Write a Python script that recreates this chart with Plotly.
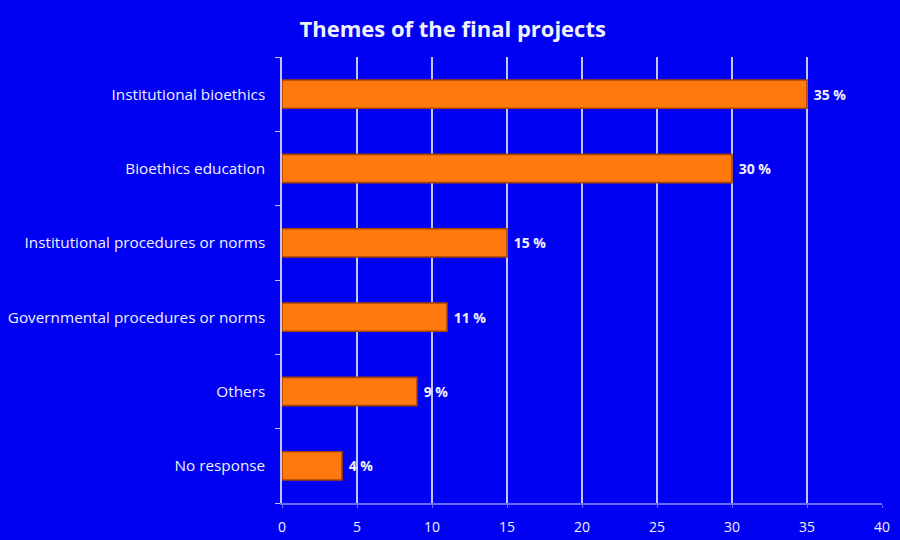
import plotly.graph_objects as go

# Themes chosen for the final projects (share of respondents, %)
themes = [
    "Institutional bioethics",
    "Bioethics education",
    "Institutional procedures or norms",
    "Governmental procedures or norms",
    "Others",
    "No response",
]
shares = [35, 30, 15, 11, 9, 4]
x_ticks = [0, 5, 10, 15, 20, 25, 30, 35, 40]

BG = "#0000F2"
GRID = "#C4C4FF"
TXT = "#F0F0FF"
BAR = "#FF7A0C"
BAR_EDGE = "#A84400"
FONT = "Open Sans"

# plot area in pixels: x 282..882, y 57..503
PL, PR, PT, PB = 282, 882, 57, 503

fig = go.Figure(
    go.Bar(
        x=shares,
        y=themes,
        orientation="h",
        width=0.38,
        marker=dict(color=BAR, line=dict(color=BAR_EDGE, width=1.6)),
        text=[f" {v} %" for v in shares],
        textposition="outside",
        textfont=dict(family=FONT, size=14, color=TXT, weight="bold"),
        cliponaxis=False,
    )
)

fig.update_layout(
    width=900,
    height=540,
    paper_bgcolor=BG,
    plot_bgcolor=BG,
    margin=dict(l=PL, r=900 - PR, t=PT, b=540 - PB, autoexpand=False),
    showlegend=False,
    title=dict(
        text="<b>Themes of the final projects</b>",
        x=0.503,
        xanchor="center",
        y=0.945,
        yanchor="middle",
        font=dict(family=FONT, size=22, color=TXT),
    ),
    font=dict(family=FONT, color=TXT, size=13),
)

fig.update_xaxes(
    range=[0, 40],
    tickvals=x_ticks,
    showgrid=True,
    gridcolor=GRID,
    gridwidth=1.6,
    zeroline=False,
    showline=True,
    linecolor="#6A6AFF",
    linewidth=1.5,
    ticks="outside",
    ticklen=3,
    tickcolor="#6A6AFF",
    ticklabelstandoff=7,
    tickfont=dict(family=FONT, size=14, color=TXT),
    automargin=False,
    fixedrange=True,
)

fig.update_yaxes(
    categoryorder="array",
    categoryarray=themes[::-1],
    showgrid=False,
    showline=True,
    linecolor=GRID,
    linewidth=1.5,
    ticks="outside",
    tickson="boundaries",
    ticklen=5,
    tickcolor=GRID,
    ticklabelstandoff=12,
    tickfont=dict(family=FONT, size=15.3, color=TXT),
    automargin=False,
    fixedrange=True,
)

fig.write_html("out.html")
